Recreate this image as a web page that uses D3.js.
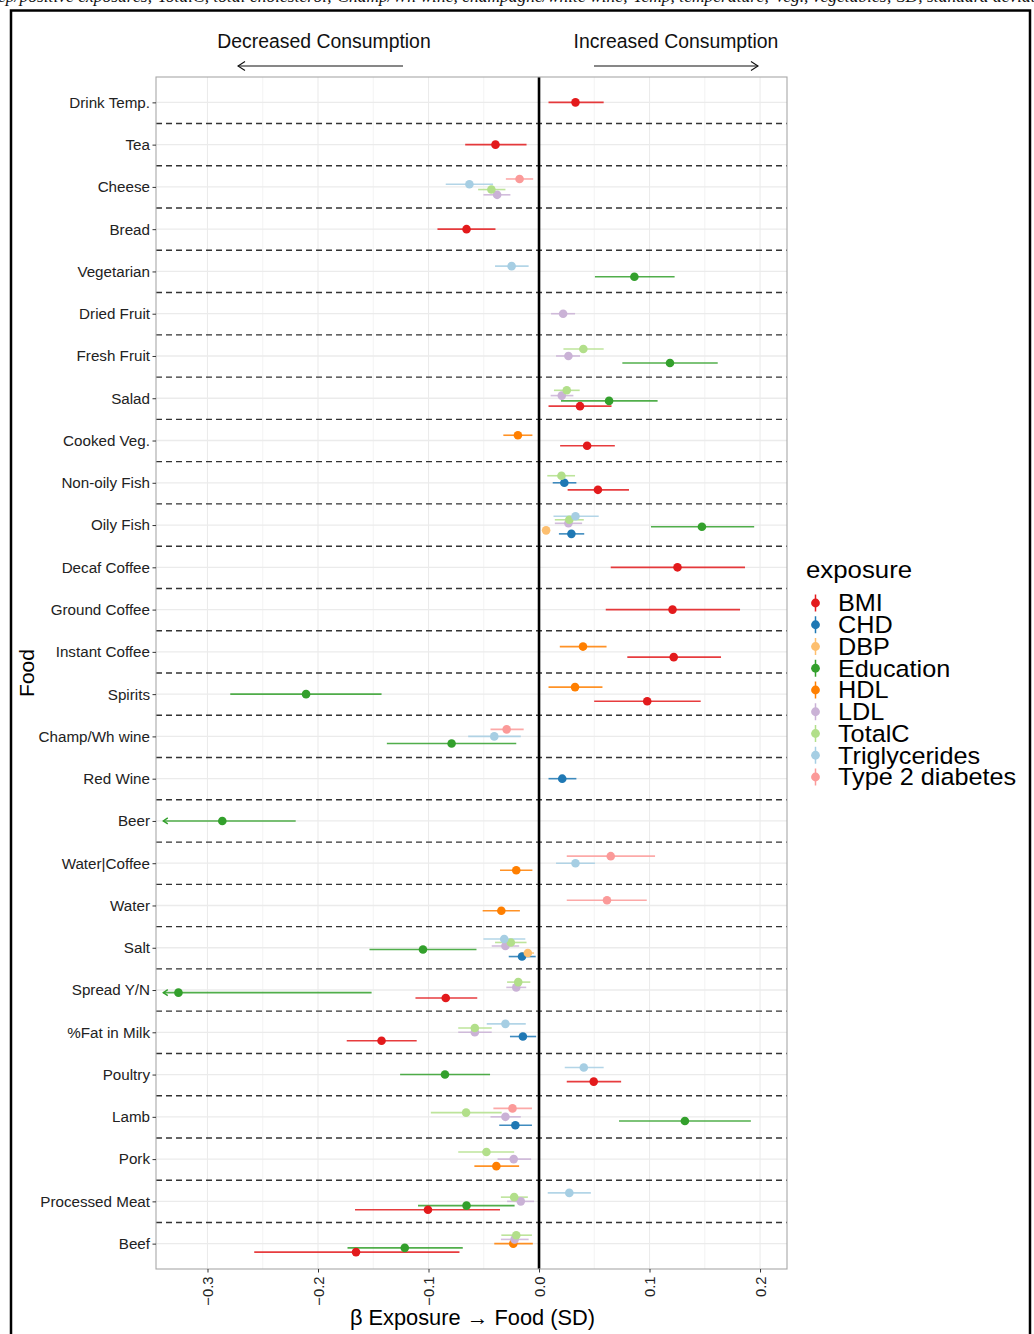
<!DOCTYPE html>
<html>
<head>
<meta charset="utf-8">
<script src="https://cdn.jsdelivr.net/npm/d3@7"></script>
<style>
  body { margin: 0; background: #fff; }
  svg { display: block; font-family: "Liberation Sans", Arial, Helvetica, sans-serif; }
</style>
</head>
<body>
<div id="chart"></div>
<script>
// food categories, top to bottom
const foods = ["Drink Temp.", "Tea", "Cheese", "Bread", "Vegetarian", "Dried Fruit", "Fresh Fruit",
    "Salad", "Cooked Veg.", "Non-oily Fish", "Oily Fish", "Decaf Coffee", "Ground Coffee",
    "Instant Coffee", "Spirits", "Champ/Wh wine", "Red Wine", "Beer", "Water|Coffee", "Water",
    "Salt", "Spread Y/N", "%Fat in Milk", "Poultry", "Lamb", "Pork", "Processed Meat", "Beef"];

const exposures = ["BMI", "CHD", "DBP", "Education", "HDL", "LDL", "TotalC", "Triglycerides", "Type 2 diabetes"];
const exposureColors = ["#E31A1C", "#1F78B4", "#FDBF6F", "#33A02C", "#FF7F00", "#CAB2D6", "#B2DF8A", "#A6CEE3", "#FB9A99"];

// [food, beta, lower, upper]
const bmi = [
    ["Drink Temp.", 0.033, 0.0086, 0.0585],
    ["Tea", -0.0394, -0.0668, -0.0113],
    ["Bread", -0.0656, -0.0919, -0.0394],
    ["Salad", 0.0371, 0.0086, 0.0656],
    ["Cooked Veg.", 0.0435, 0.0191, 0.0686],
    ["Non-oily Fish", 0.0533, 0.0259, 0.0814],
    ["Decaf Coffee", 0.1253, 0.0649, 0.1864],
    ["Ground Coffee", 0.1208, 0.0604, 0.1819],
    ["Instant Coffee", 0.1219, 0.0799, 0.1647],
    ["Spirits", 0.0979, 0.0499, 0.1463],
    ["Spread Y/N", -0.0844, -0.1118, -0.0559],
    ["%Fat in Milk", -0.1425, -0.174, -0.1107],
    ["Poultry", 0.0495, 0.0251, 0.0743],
    ["Processed Meat", -0.1005, -0.1665, -0.0353],
    ["Beef", -0.1656, -0.2577, -0.072]
];
const chd = [
    ["Non-oily Fish", 0.0229, 0.0124, 0.0338],
    ["Oily Fish", 0.0293, 0.018, 0.0409],
    ["Red Wine", 0.021, 0.0086, 0.0338],
    ["Salt", -0.0154, -0.0274, -0.003],
    ["%Fat in Milk", -0.0146, -0.0263, -0.0026],
    ["Lamb", -0.0214, -0.036, -0.0064]
];
const dbp = [
    ["Oily Fish", 0.0064, 0.003, 0.0098],
    ["Salt", -0.0101, -0.0158, -0.0045]
];
const education = [
    ["Vegetarian", 0.0863, 0.0506, 0.1227],
    ["Fresh Fruit", 0.1185, 0.0754, 0.1617],
    ["Salad", 0.0634, 0.0199, 0.1073],
    ["Oily Fish", 0.1474, 0.1013, 0.1947],
    ["Spirits", -0.2108, -0.2794, -0.1425],
    ["Champ/Wh wine", -0.0791, -0.1377, -0.0206],
    ["Beer", -0.2866, -0.353, -0.2202],
    ["Salt", -0.105, -0.1534, -0.0566],
    ["Spread Y/N", -0.3263, -0.501, -0.1515],
    ["Poultry", -0.0851, -0.1257, -0.0443],
    ["Lamb", 0.132, 0.0724, 0.1917],
    ["Processed Meat", -0.0656, -0.1095, -0.0221],
    ["Beef", -0.1215, -0.1733, -0.069]
];
const hdl = [
    ["Cooked Veg.", -0.0191, -0.0323, -0.006],
    ["Instant Coffee", 0.0398, 0.0188, 0.0611],
    ["Spirits", 0.0326, 0.0086, 0.0574],
    ["Water|Coffee", -0.0206, -0.0353, -0.006],
    ["Water", -0.0341, -0.051, -0.0173],
    ["Pork", -0.0386, -0.0585, -0.018],
    ["Beef", -0.0233, -0.0405, -0.0056]
];
const ldl = [
    ["Cheese", -0.0379, -0.0503, -0.0259],
    ["Dried Fruit", 0.0218, 0.0109, 0.0326],
    ["Fresh Fruit", 0.0266, 0.0154, 0.0371],
    ["Salad", 0.0206, 0.0105, 0.0311],
    ["Oily Fish", 0.0266, 0.0143, 0.039],
    ["Salt", -0.0304, -0.0428, -0.018],
    ["Spread Y/N", -0.0206, -0.0296, -0.0116],
    ["%Fat in Milk", -0.0581, -0.0731, -0.0428],
    ["Lamb", -0.0304, -0.0439, -0.0165],
    ["Pork", -0.0229, -0.0375, -0.0071],
    ["Processed Meat", -0.0165, -0.0289, -0.0045],
    ["Beef", -0.0221, -0.0345, -0.0094]
];
const totalC = [
    ["Cheese", -0.0431, -0.0551, -0.0304],
    ["Fresh Fruit", 0.0401, 0.0221, 0.0585],
    ["Salad", 0.0251, 0.0135, 0.0368],
    ["Non-oily Fish", 0.0203, 0.0075, 0.0326],
    ["Oily Fish", 0.0274, 0.0143, 0.0405],
    ["Salt", -0.0255, -0.0398, -0.0113],
    ["Spread Y/N", -0.0188, -0.0289, -0.0079],
    ["%Fat in Milk", -0.0581, -0.0731, -0.0428],
    ["Lamb", -0.066, -0.0979, -0.0338],
    ["Pork", -0.0476, -0.0731, -0.0225],
    ["Processed Meat", -0.0225, -0.0345, -0.0101],
    ["Beef", -0.0206, -0.0341, -0.0064]
];
const triglycerides = [
    ["Cheese", -0.063, -0.0844, -0.0416],
    ["Vegetarian", -0.0248, -0.0398, -0.0094],
    ["Oily Fish", 0.033, 0.0131, 0.054],
    ["Champ/Wh wine", -0.0405, -0.0641, -0.0165],
    ["Water|Coffee", 0.033, 0.0154, 0.0506],
    ["Salt", -0.0315, -0.0503, -0.0124],
    ["%Fat in Milk", -0.0304, -0.0473, -0.012],
    ["Poultry", 0.0405, 0.0233, 0.0585],
    ["Processed Meat", 0.0274, 0.0079, 0.0469]
];
const type2diabetes = [
    ["Cheese", -0.0176, -0.030, -0.0053],
    ["Champ/Wh wine", -0.0293, -0.0439, -0.0139],
    ["Water|Coffee", 0.0649, 0.0251, 0.105],
    ["Water", 0.0615, 0.0251, 0.0975],
    ["Lamb", -0.024, -0.0413, -0.0064]
];

const seriesByExposure = [bmi, chd, dbp, education, hdl, ldl, totalC, triglycerides, type2diabetes];

const xTicks = [-0.3, -0.2, -0.1, 0.0, 0.1, 0.2];
const xMinor = [-0.25, -0.15, -0.05, 0.05, 0.15];
const xDomain = [-0.3466, 0.2244];
const clipLo = -0.34;

const captionText = "ep/positive exposures; TotalC, total cholesterol; Champ/Wh wine, champagne/white wine; Temp, temperature; Veg., vegetables; SD, standard deviation";

class ForestVis {

    constructor(parentElement) {
        let vis = this;
        vis.parentElement = parentElement;
        vis.initVis();
    }

    initVis() {
        let vis = this;

        vis.width = 1034;
        vis.height = 1334;
        vis.panel = {left: 156, right: 787, top: 77, bottom: 1269};

        vis.svg = d3.select("#" + vis.parentElement)
            .append("svg")
            .attr("width", vis.width)
            .attr("height", vis.height);

        // cut-off caption and outer frame
        vis.svg.append("text")
            .attr("x", -2)
            .attr("y", 1.5)
            .attr("font-family", "'Liberation Serif', 'Times New Roman', serif")
            .attr("font-style", "italic")
            .attr("font-size", 17.5)
            .attr("fill", "#111")
            .text(captionText);

        vis.svg.append("rect")
            .attr("x", 11)
            .attr("y", 10.5)
            .attr("width", 1019)
            .attr("height", 1340)
            .attr("fill", "none")
            .attr("stroke", "#000")
            .attr("stroke-width", 2.5);

        vis.x = d3.scaleLinear()
            .domain(xDomain)
            .range([vis.panel.left, vis.panel.right]);

        vis.y = d3.scalePoint()
            .domain(foods)
            .range([vis.panel.top, vis.panel.bottom])
            .padding(0.6);

        vis.colors = d3.scaleOrdinal()
            .domain(exposures)
            .range(exposureColors);

        vis.wrangleData();
    }

    wrangleData() {
        let vis = this;

        vis.displayData = [];
        seriesByExposure.forEach((series, i) => {
            series.forEach(d => {
                vis.displayData.push({
                    food: d[0], beta: d[1], lo: d[2], hi: d[3],
                    exposure: exposures[i], order: i
                });
            });
        });

        // dodge inside each food row (first exposure at the bottom)
        let dodgeWidth = vis.y.step() * 0.5;
        let byFood = d3.group(vis.displayData, d => d.food);
        byFood.forEach(rows => {
            rows.sort((a, b) => a.order - b.order);
            let n = rows.length;
            rows.forEach((d, k) => {
                d.yPos = vis.y(d.food) - (k - (n - 1) / 2) * dodgeWidth / n;
            });
        });

        vis.updateVis();
    }

    updateVis() {
        let vis = this;
        let p = vis.panel;
        let g = vis.svg.append("g");

        // grid
        g.selectAll(".minor").data(xMinor).enter().append("line")
            .attr("x1", d => vis.x(d)).attr("x2", d => vis.x(d))
            .attr("y1", p.top).attr("y2", p.bottom)
            .attr("stroke", "#ebebeb").attr("stroke-width", 0.6);
        g.selectAll(".major").data(xTicks).enter().append("line")
            .attr("x1", d => vis.x(d)).attr("x2", d => vis.x(d))
            .attr("y1", p.top).attr("y2", p.bottom)
            .attr("stroke", "#ebebeb").attr("stroke-width", 1.1);
        g.selectAll(".hgrid").data(foods).enter().append("line")
            .attr("x1", p.left).attr("x2", p.right)
            .attr("y1", d => vis.y(d)).attr("y2", d => vis.y(d))
            .attr("stroke", "#ebebeb").attr("stroke-width", 1.3);

        // dashed separators between foods
        g.selectAll(".sep").data(foods.slice(1)).enter().append("line")
            .attr("x1", p.left).attr("x2", p.right)
            .attr("y1", d => vis.y(d) - vis.y.step() / 2)
            .attr("y2", d => vis.y(d) - vis.y.step() / 2)
            .attr("stroke", "#333").attr("stroke-width", 1.4)
            .attr("stroke-dasharray", "6,4");

        // zero line
        g.append("line")
            .attr("x1", vis.x(0)).attr("x2", vis.x(0))
            .attr("y1", p.top).attr("y2", p.bottom)
            .attr("stroke", "#000").attr("stroke-width", 2.6);

        // error bars
        g.selectAll(".ci").data(vis.displayData).enter().append("line")
            .attr("x1", d => vis.x(Math.max(d.lo, clipLo)))
            .attr("x2", d => vis.x(d.hi))
            .attr("y1", d => d.yPos).attr("y2", d => d.yPos)
            .attr("stroke", d => vis.colors(d.exposure))
            .attr("stroke-opacity", 0.85)
            .attr("stroke-width", 1.6);

        // arrows for clipped intervals
        g.selectAll(".clip").data(vis.displayData.filter(d => d.lo < clipLo)).enter().append("path")
            .attr("d", d => {
                let x0 = vis.x(clipLo), y0 = d.yPos;
                return "M" + (x0 + 4.5) + "," + (y0 - 3) + "L" + x0 + "," + y0 + "L" + (x0 + 4.5) + "," + (y0 + 3);
            })
            .attr("fill", "none")
            .attr("stroke", d => vis.colors(d.exposure))
            .attr("stroke-width", 1.4);

        // points
        g.selectAll(".pt").data(vis.displayData).enter().append("circle")
            .attr("cx", d => vis.x(d.beta))
            .attr("cy", d => d.yPos)
            .attr("r", 4.3)
            .attr("fill", d => vis.colors(d.exposure));

        // panel border
        g.append("rect")
            .attr("x", p.left).attr("y", p.top)
            .attr("width", p.right - p.left).attr("height", p.bottom - p.top)
            .attr("fill", "none").attr("stroke", "#a8a8a8").attr("stroke-width", 1.1);

        // y axis
        let yAxis = vis.svg.append("g")
            .attr("transform", "translate(" + p.left + ",0)")
            .call(d3.axisLeft(vis.y).tickSize(3.5).tickPadding(2.5));
        yAxis.select(".domain").remove();
        yAxis.selectAll("line").attr("stroke", "#333").attr("stroke-width", 1);
        yAxis.selectAll("text")
            .attr("font-size", 15.2)
            .attr("fill", "#222")
            .style("font-family", "'Liberation Sans', Arial, sans-serif");

        // x axis with rotated labels
        let xAxis = vis.svg.append("g")
            .attr("transform", "translate(0," + p.bottom + ")")
            .call(d3.axisBottom(vis.x).tickValues(xTicks).tickSize(3.5).tickFormat(d3.format(".1f")));
        xAxis.select(".domain").remove();
        xAxis.selectAll("line").attr("stroke", "#333").attr("stroke-width", 1);
        xAxis.selectAll("text")
            .attr("font-size", 14.8)
            .attr("fill", "#222")
            .style("font-family", "'Liberation Sans', Arial, sans-serif")
            .attr("text-anchor", "end")
            .attr("transform", "rotate(-90)")
            .attr("x", -7.5)
            .attr("y", 0)
            .attr("dy", "0.36em");

        // axis titles
        vis.svg.append("text")
            .attr("x", (p.left + p.right) / 2 + 1)
            .attr("y", 1325)
            .attr("text-anchor", "middle")
            .attr("font-size", 21.8)
            .attr("fill", "#000")
            .text("\u03B2  Exposure \u2192 Food (SD)");

        vis.svg.append("text")
            .attr("transform", "translate(34," + ((p.top + p.bottom) / 2) + ") rotate(-90)")
            .attr("text-anchor", "middle")
            .attr("font-size", 21)
            .attr("fill", "#000")
            .text("Food");

        // direction annotations
        let notes = [
            {label: "Decreased Consumption", cx: 324, from: 403, to: 238},
            {label: "Increased Consumption", cx: 676, from: 594, to: 758}
        ];
        notes.forEach(n => {
            vis.svg.append("text")
                .attr("x", n.cx).attr("y", 48)
                .attr("text-anchor", "middle")
                .attr("font-size", 19.4)
                .attr("fill", "#111")
                .text(n.label);
            let dir = n.to > n.from ? 1 : -1;
            vis.svg.append("line")
                .attr("x1", n.from).attr("x2", n.to)
                .attr("y1", 66).attr("y2", 66)
                .attr("stroke", "#111").attr("stroke-width", 1.1);
            vis.svg.append("path")
                .attr("d", "M" + (n.to - dir * 7) + ",61.5L" + n.to + ",66L" + (n.to - dir * 7) + ",70.5")
                .attr("fill", "none").attr("stroke", "#111").attr("stroke-width", 1.1);
        });

        // legend
        let legend = vis.svg.append("g").attr("transform", "translate(806,0)");
        legend.append("text")
            .attr("transform", "translate(0,578) scale(1.075,1)")
            .attr("font-size", 24)
            .attr("fill", "#000")
            .text("exposure");
        let items = legend.selectAll(".key").data(exposures).enter().append("g")
            .attr("transform", (d, i) => "translate(0," + (603 + i * 21.75) + ")");
        items.append("line")
            .attr("x1", 9.5).attr("x2", 9.5)
            .attr("y1", -8.5).attr("y2", 8.5)
            .attr("stroke", d => vis.colors(d))
            .attr("stroke-width", 1.5);
        items.append("circle")
            .attr("cx", 9.5).attr("cy", 0).attr("r", 4.4)
            .attr("fill", d => vis.colors(d));
        items.append("text")
            .attr("transform", "translate(32,0) scale(1.075,1)")
            .attr("dy", "0.36em")
            .attr("font-size", 23.5)
            .attr("fill", "#000")
            .text(d => d);
    }
}

new ForestVis("chart");
</script>
</body>
</html>
